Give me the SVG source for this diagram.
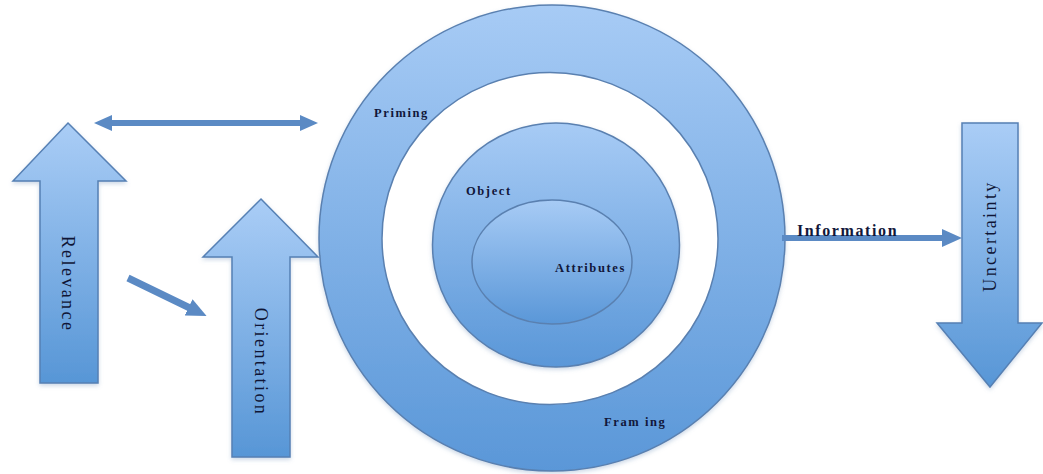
<svg xmlns="http://www.w3.org/2000/svg" width="1043" height="474" viewBox="0 0 1043 474">
  <defs>
    <linearGradient id="gv" x1="0" y1="0" x2="0" y2="1">
      <stop offset="0" stop-color="#aacdf6"/>
      <stop offset="1" stop-color="#5796d6"/>
    </linearGradient>
    <linearGradient id="gc" x1="0" y1="0" x2="0" y2="1">
      <stop offset="0" stop-color="#a7cbf5"/>
      <stop offset="1" stop-color="#5a97d8"/>
    </linearGradient>
    <filter id="sh" x="-10%" y="-10%" width="120%" height="120%">
      <feDropShadow dx="0" dy="2" stdDeviation="2" flood-color="#6a8fb8" flood-opacity="0.35"/>
    </filter>
    <marker id="ah" markerWidth="20" markerHeight="18" refX="6" refY="9" orient="auto" markerUnits="userSpaceOnUse">
      <path d="M0,0 L20,9 L0,18 z" fill="#5b8ac4"/>
    </marker>
    <marker id="ahs" markerWidth="18" markerHeight="16" refX="6" refY="8" orient="auto-start-reverse" markerUnits="userSpaceOnUse">
      <path d="M0,0 L18,8 L0,16 z" fill="#5b8ac4"/>
    </marker>
    <style>
      .blk { fill: url(#gv); stroke: #5680b4; stroke-width: 1.5; filter: url(#sh); }
      .circ { fill: url(#gc); stroke: #5a80b0; stroke-width: 1.5; }
      .lbl { font-family: "Liberation Serif", "Times New Roman", serif; font-weight: bold; fill: #11173a; font-size: 12.5px; letter-spacing: 1.6px; }
      .vlbl { font-family: "Liberation Serif", "Times New Roman", serif; fill: #0f1535; font-size: 18px; letter-spacing: 2.4px; text-anchor: middle; }
      .conn { stroke: #5b8ac4; fill: none; }
    </style>
  </defs>
  <rect width="1043" height="474" fill="#ffffff"/>

  <g id="framing-priming">
    <circle cx="552" cy="238" r="233" class="circ" filter="url(#sh)"/>
    <ellipse cx="550" cy="238.5" rx="168" ry="166" fill="#ffffff" stroke="#5a80b0" stroke-width="1.5"/>
    <text class="lbl" x="374" y="117">Priming</text>
    <text class="lbl" x="604" y="426">Fram ing</text>
  </g>
  <g id="object">
    <ellipse cx="556" cy="245" rx="123.5" ry="122" class="circ" filter="url(#sh)"/>
    <text class="lbl" x="466" y="195">Object</text>
  </g>
  <g id="attributes">
    <ellipse cx="552" cy="262" rx="80" ry="62" class="circ"/>
    <text class="lbl" x="555" y="272">Attributes</text>
  </g>

  <g id="relevance">
    <polygon class="blk" points="68,123 126,181 98,181 98,383 40,383 40,181 13,181"/>
    <text class="vlbl" transform="translate(62,284) rotate(90)">Relevance</text>
  </g>
  <g id="orientation">
    <polygon class="blk" points="261,199 318,257 290,257 290,457 232,457 232,257 203,257"/>
    <text class="vlbl" transform="translate(255,362) rotate(90)">Orientation</text>
  </g>
  <g id="uncertainty">
    <polygon class="blk" points="962,123 1018,123 1018,323 1042,323 990,387 937,323 962,323"/>
    <text class="vlbl" transform="translate(996,236) rotate(-90)">Uncertainty</text>
  </g>

  <g id="connectors">
    <line class="conn" x1="106" y1="123" x2="306" y2="123" stroke-width="6" marker-start="url(#ahs)" marker-end="url(#ahs)"/>
    <line class="conn" x1="128" y1="278" x2="194" y2="310" stroke-width="7" marker-end="url(#ah)"/>
    <line class="conn" x1="782" y1="238" x2="948" y2="238" stroke-width="6" marker-end="url(#ah)"/>
  </g>
  <text x="797" y="236" font-family="Liberation Serif, Times New Roman, serif" font-weight="bold" font-size="16" letter-spacing="1.6" fill="#11173a">Information</text>
</svg>
